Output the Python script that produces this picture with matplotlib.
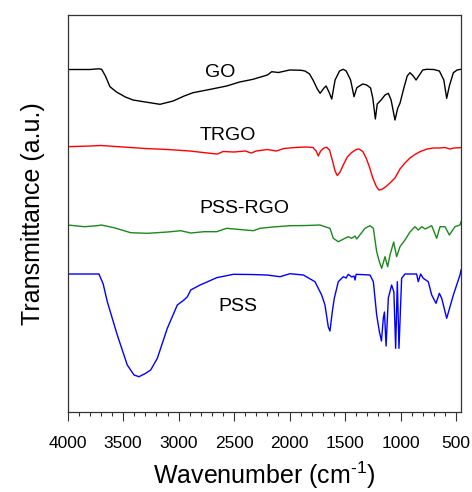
import matplotlib
matplotlib.use("Agg")
import matplotlib.pyplot as plt
from matplotlib.ticker import MultipleLocator

plt.rcParams['font.family'] = ['Liberation Sans', 'DejaVu Sans']
plt.rcParams['mathtext.fontset'] = 'custom'
plt.rcParams['mathtext.rm'] = 'Liberation Sans'

# FTIR spectra, transmittance in arbitrary units (curves already offset)
go_wn = [4000, 3800, 3720, 3694, 3660, 3619, 3560, 3480, 3411, 3300, 3168, 3050, 2950,
         2870, 2700, 2567, 2450, 2330, 2200, 2161, 2100, 2000, 1900, 1861, 1820, 1789,
         1750, 1725, 1690, 1671, 1645, 1620, 1590, 1550, 1516, 1490, 1450, 1419, 1395,
         1381, 1340, 1305, 1270, 1250, 1227, 1210, 1175, 1140, 1110, 1085, 1050, 1025,
         1005, 970, 940, 915, 885, 860, 830, 800, 764, 700, 650, 610, 584, 560, 524,
         490, 455]
go_t = [342.5, 342.5, 343.2, 342.7, 336, 325.3, 320, 315, 312, 310, 307.7, 311, 316,
        319.3, 323, 326, 330, 332.7, 337, 340.3, 339.5, 342, 341.8, 341, 338, 332,
        323, 318.7, 324, 326, 320, 313, 332, 341, 342.7, 341, 332, 315.3, 324,
        325.3, 328, 327, 324, 314, 293, 308, 312, 317, 318.7, 312, 292, 304,
        308.7, 324, 336, 339.3, 336, 332, 337, 342, 342.7, 342.5, 341, 332, 313.7, 326, 339.3,
        342, 342.7]

trgo_wn = [4000, 3800, 3700, 3500, 3300, 3100, 2900, 2700, 2650, 2600, 2500, 2400, 2345,
           2300, 2200, 2120, 2050, 1950, 1850, 1790, 1760, 1741, 1720, 1690, 1665, 1640,
           1615, 1590, 1570, 1545, 1516, 1480, 1440, 1400, 1375, 1340, 1310, 1280, 1250,
           1220, 1195, 1170, 1130, 1095, 1050, 1005, 960, 915, 870, 825, 760, 705, 650,
           600, 554, 520, 465, 455]
trgo_t = [265.3, 266, 266.5, 265, 263.5, 262.5, 261, 258.5, 258, 260.5, 260, 261, 259,
          261, 262.5, 261, 263.5, 264.5, 265, 264.5, 261, 256, 261, 264, 264.7, 262,
          252, 241, 236.5, 240, 247, 255, 259.5, 262.5, 263, 260.5, 254, 245, 234,
          226, 222, 222.5, 225.5, 229, 234, 243, 249, 254, 257.5, 260.3, 263, 264, 264,
          264.5, 263, 264, 264.3, 264.5]

pssrgo_wn = [4000, 3850, 3733, 3697, 3583, 3432, 3282, 3100, 2981, 2891, 2771, 2657, 2567,
             2450, 2327, 2267, 2150, 1996, 1850, 1726, 1681, 1636, 1606, 1561, 1501, 1470,
             1441, 1410, 1395, 1320, 1275, 1245, 1215, 1190, 1170, 1140, 1116, 1095, 1062,
             1035, 1005, 960, 915, 870, 840, 808, 778, 719, 674, 644, 599, 560, 509,
             464, 455]
pssrgo_t = [187, 185.3, 186.3, 187, 184.3, 179.3, 178.7, 180, 181.3, 179, 180.3, 180.3, 183.7,
            182.5, 181.3, 183.7, 185, 186.3, 186.5, 187, 185.3, 183.7, 173.7, 170.3, 173.7, 175.3,
            173.7, 176, 173, 183.7, 186.3, 183.7, 160.3, 150, 143.7, 155.3, 145.3, 157, 170,
            155.3, 165.3, 172, 180, 185.3, 182, 185.3, 183, 186.3, 173.7, 185.3, 185.3, 177, 185.3,
            187, 190.3]

pss_wn = [4000, 3718, 3680, 3643, 3553, 3463, 3402, 3357, 3300, 3252, 3192, 3102, 3012,
          2952, 2921, 2891, 2807, 2771, 2657, 2507, 2350, 2206, 2086, 1996, 1876, 1771,
          1711, 1681, 1651, 1636, 1615, 1597, 1561, 1516, 1490, 1471, 1440, 1420, 1410,
          1400, 1275, 1245, 1215, 1190, 1172, 1155, 1145, 1130, 1110, 1080, 1060, 1044,
          1029, 1014, 990, 960, 855, 840, 819, 795, 750, 719, 680, 650, 629, 584, 524,
          464, 455]
pss_t = [138, 138, 128, 110.3, 77, 47, 37, 35.3, 38.5, 42, 53.7, 83.7, 107,
         112, 115.3, 122, 127, 128.7, 134.3, 137.7, 137.5, 137, 135.3, 138.3, 137, 130.3,
         117, 107, 85, 81, 100.3, 113.7, 130.3, 135.3, 134, 137.7, 135, 136, 132,
         137.7, 137, 130.3, 97, 80, 71, 94, 100, 66, 114, 127, 120, 63.7,
         130.3, 63.7, 133.7, 138, 138, 130.3, 138, 133.7, 130.3, 117, 108.7, 118.7, 113.7, 93.7, 117,
         137, 142]

names = ['GO', 'TRGO', 'PSS-RGO', 'PSS']
colors = ['black', '#ff0000', '#1a8a1a', '#0000ff']
label_wn = [2627, 2560, 2411, 2470]
label_t = [339.5, 277, 204, 105.5]

fig = plt.figure(figsize=(4.72, 4.92), dpi=100)
ax = fig.add_axes([0.1434, 0.1626, 0.8333, 0.8069])

series = [(go_wn, go_t), (trgo_wn, trgo_t), (pssrgo_wn, pssrgo_t), (pss_wn, pss_t)]
for (wn, t), c in zip(series, colors):
    ax.plot(wn, t, color=c, lw=1.0)

for name, x, y in zip(names, label_wn, label_t):
    ax.text(x, y, name, ha='center', va='center', fontsize=14)

ax.set_xlim(4000, 455)
ax.set_ylim(0, 397)
ax.xaxis.set_major_locator(MultipleLocator(500))
ax.xaxis.set_minor_locator(MultipleLocator(100))
ax.tick_params(axis='x', which='major', direction='out', length=6.5, width=0.8,
               labelsize=12.5, pad=11, color='#333333')
ax.tick_params(axis='x', which='minor', direction='out', length=3.2, width=0.8, color='#333333')
ax.set_yticks([])
for s in ax.spines.values():
    s.set_color('#333333')
    s.set_linewidth(0.9)

ax.set_xlabel(r'Wavenumber (cm$^{\text{-1}}$)', fontsize=18, labelpad=6)
ax.set_ylabel('Transmittance (a.u.)', fontsize=18, labelpad=16)

fig.savefig('out.png', dpi=100)
